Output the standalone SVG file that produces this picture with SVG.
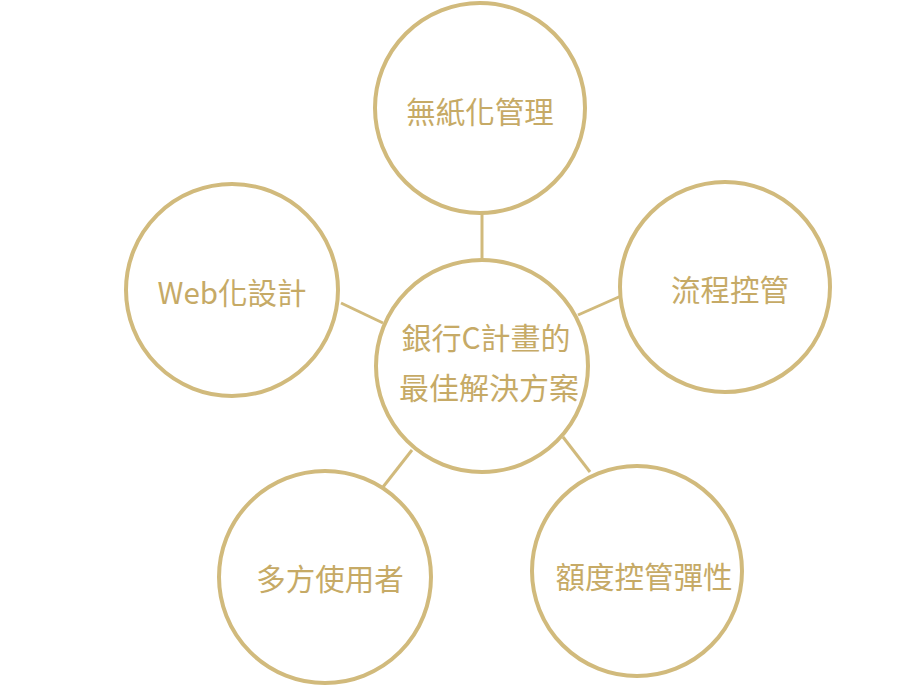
<svg xmlns="http://www.w3.org/2000/svg" width="923" height="689" viewBox="0 0 923 689">
<style>
.c{fill:#fff;stroke:#D1BA7C;stroke-width:4}
.l{stroke:#D1BA7C;stroke-width:3;fill:none}
.t{font-family:"Noto Sans CJK TC","Noto Sans CJK SC",sans-serif;font-size:29.5px;font-weight:400;fill:#C6AA66;text-anchor:middle;dominant-baseline:central}
</style>
<rect width="923" height="689" fill="#fff"/>
<g id="connectors">
<line class="l" x1="482" y1="213" x2="482" y2="261"/>
<line class="l" x1="341" y1="303" x2="383" y2="323"/>
<line class="l" x1="578" y1="315" x2="621" y2="296"/>
<line class="l" x1="383" y1="487" x2="412" y2="450"/>
<line class="l" x1="563" y1="437" x2="590" y2="472"/>
</g>
<g id="center"><circle class="c" cx="482" cy="366" r="106"/>
<text class="t" x="486" y="336" style="font-size:30px">銀行C計畫的</text>
<text class="t" x="489" y="386" style="font-size:30px">最佳解決方案</text></g>
<g id="top"><circle class="c" cx="480" cy="108" r="105"/><text class="t" x="480" y="110">無紙化管理</text></g>
<g id="left"><circle class="c" cx="232" cy="290" r="106"/><text class="t" x="232" y="291">Web化設計</text></g>
<g id="right"><circle class="c" cx="725" cy="287" r="105"/><text class="t" x="730" y="288">流程控管</text></g>
<g id="bottomleft"><circle class="c" cx="325" cy="577" r="106"/><text class="t" x="330" y="577">多方使用者</text></g>
<g id="bottomright"><circle class="c" cx="637" cy="571" r="105"/><text class="t" x="644" y="575">額度控管彈性</text></g>
</svg>
